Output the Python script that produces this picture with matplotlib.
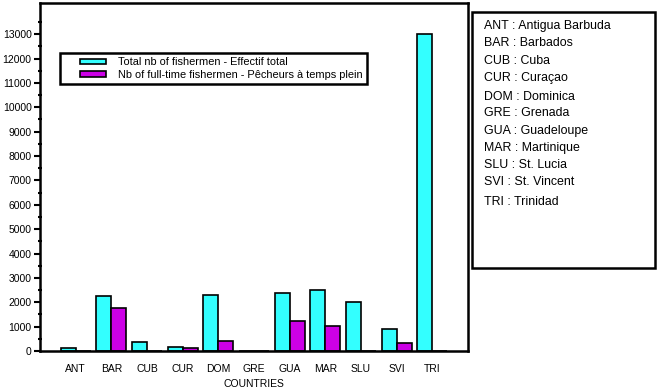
import numpy as np
import matplotlib.pyplot as plt
from matplotlib.patches import Rectangle
from matplotlib.container import BarContainer
from matplotlib.legend_handler import HandlerPatch, update_from_first_child

plt.rcParams['font.family'] = ['Liberation Sans', 'DejaVu Sans']

codes = ['ANT', 'BAR', 'CUB', 'CUR', 'DOM', 'GRE', 'GUA', 'MAR', 'SLU', 'SVI', 'TRI']
names = ['Antigua Barbuda', 'Barbados', 'Cuba', 'Curaçao', 'Dominica', 'Grenada',
         'Guadeloupe', 'Martinique', 'St. Lucia', 'St. Vincent', 'Trinidad']
total = [130, 2250, 380, 180, 2280, 0, 2400, 2510, 2030, 920, 13000]
fulltime = [0, 1780, 0, 135, 420, 0, 1250, 1010, 0, 310, 0]

fig = plt.figure(figsize=(6.57, 3.88), dpi=100)
ax = fig.add_axes([40/657, 1 - 351/388, 428/657, 348/388])

x = np.arange(len(codes))
w = 0.42
ax.bar(x - w/2, total, w, color='#33ffff', edgecolor='black', linewidth=1.2,
       label='Total nb of fishermen - Effectif total')
ax.bar(x + w/2, fulltime, w, color='#cc00e6', edgecolor='black', linewidth=1.2,
       label='Nb of full-time fishermen - Pêcheurs à temps plein')

ax.set_xlim(-1, 11)
ax.set_ylim(0, 14280)
ax.set_yticks(np.arange(0, 14000, 1000))
ax.set_yticks(np.arange(500, 14000, 1000), minor=True)
ax.set_xticks(x)
ax.set_xticklabels(codes, fontsize=7.5)
ax.tick_params(axis='x', length=0, pad=9)
ax.tick_params(axis='y', which='major', direction='out', length=4, width=1.5, labelsize=7.5, pad=2)
ax.tick_params(axis='y', which='minor', direction='inout', length=3, width=1.5)
ax.set_xlabel('COUNTRIES', fontsize=7.5, labelpad=4)
for s in ax.spines.values():
    s.set_linewidth(1.8)


# legend swatch pushed to the right part of the handle box
def swatch(legend, orig_handle, xdescent, ydescent, width, height, fontsize):
    return Rectangle((-xdescent + 0.38 * width, -ydescent), 0.62 * width, height)


leg = ax.legend(loc='upper left', bbox_to_anchor=(20/428, 1 - 50/348), fontsize=7.9,
                frameon=True, fancybox=False, framealpha=1, handlelength=3.8, handleheight=0.45,
                borderpad=0.4, labelspacing=0.2, handletextpad=1.1, borderaxespad=0,
                handler_map={BarContainer: HandlerPatch(patch_func=swatch,
                                                        update_func=update_from_first_child)})
leg.get_frame().set_edgecolor('black')
leg.get_frame().set_linewidth(1.8)

# right-hand key of country codes
fig.patches.append(Rectangle((472/657, 1 - 268/388), 183/657, 256/388, transform=fig.transFigure,
                             fill=False, edgecolor='black', linewidth=1.8))
ys = [25.7, 43.3, 61, 78.3, 96.7, 113.3, 131, 147.7, 165, 182.3, 201.7]
for c, n, yy in zip(codes, names, ys):
    fig.text(484/657, 1 - yy/388, c + ' : ' + n, fontsize=8.9, va='center', ha='left')

fig.savefig('out.png', dpi=100)
